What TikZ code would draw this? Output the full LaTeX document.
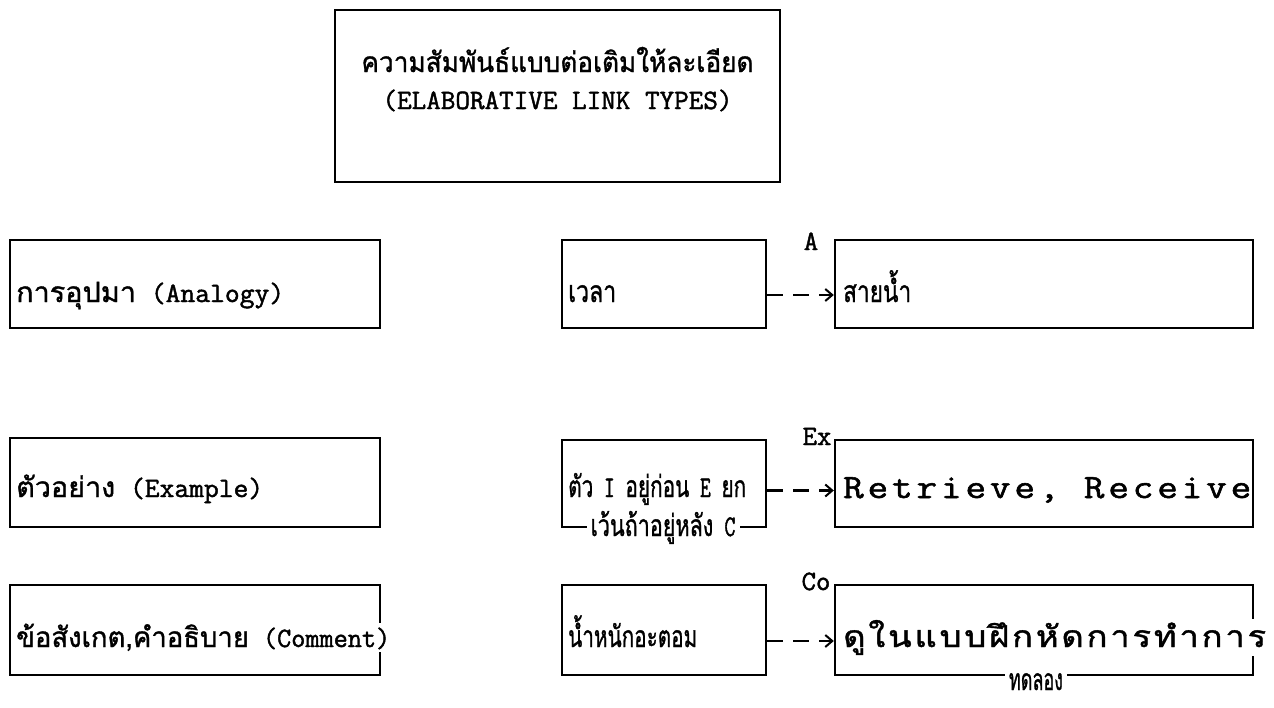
\documentclass[tikz,border=0pt]{standalone}
\usepackage{fontspec}
\usepackage{graphicx}
\usetikzlibrary{arrows.meta}
\newfontfamily\thai[Script=Thai,FakeBold=1.2]{Loma}
\newfontfamily\thaisp[Script=Thai,FakeBold=1.2,LetterSpace=8]{Loma}
\newfontfamily\tw[FakeBold=1.6]{Latin Modern Mono}
\newfontfamily\twsp[FakeBold=1.6,LetterSpace=10]{Latin Modern Mono}
\newcommand\fitto[2]{\resizebox{#1}{\height}{#2}}
\tikzset{
  box/.style={draw=black, line width=2.4pt, minimum width=#1, inner sep=0pt},
  txt/.style={font=\tw\fontsize{28}{32}\selectfont, inner sep=1pt, anchor=base west},
  lbl/.style={font=\tw\fontsize{28}{32}\selectfont, inner sep=1pt, anchor=base},
  link/.style={line width=2.2pt, dash pattern=on 16pt off 10pt, -{Straight Barb[length=7pt,width=12pt,line width=2pt]}},
}
\begin{document}
\begin{tikzpicture}[x=1pt,y=-1pt]
\useasboundingbox (0,0) rectangle (1274,707);
% title
\node[box=445pt, minimum height=172pt] (T) at (557.5,96) {};
\node[lbl] (Ta) at (557.5,72) {\fitto{392pt}{\thai ความสัมพันธ์แบบต่อเติมให้ละเอียด}};
\node[lbl] (Tb) at (557.5,109) {\fitto{350pt}{(ELABORATIVE LINK TYPES)}};
% left column
\node[box=370pt, minimum height=88pt] (L1) at (195,284) {};
\node[box=370pt, minimum height=89pt] (L2) at (195,482.5) {};
\node[box=370pt, minimum height=90pt] (L3) at (195,630) {};
\node[txt] (l1) at (15,302) {\fitto{268pt}{{\thai การอุปมา} (Analogy)}};
\node[txt] (l2) at (15,497) {\fitto{247pt}{{\thai ตัวอย่าง} (Example)}};
\node[txt, fill=white] (l3) at (15,647) {\fitto{374pt}{{\thai ข้อสังเกต,คำอธิบาย} (Comment)}};
% middle column
\node[box=204pt, minimum height=88pt] (M1) at (664,284) {};
\node[box=204pt, minimum height=87pt] (M2) at (664,483.5) {};
\node[box=204pt, minimum height=90pt] (M3) at (664,630) {};
\node[txt] (m1) at (567,302) {\fitto{48pt}{\fontsize{30}{32}\selectfont\thai เวลา}};
\node[txt] (m2) at (567,497) {\fitto{178pt}{\fontsize{30}{32}\selectfont{\thai ตัว} I {\thai อยู่ก่อน} E {\thai ยก}}};
\node[lbl, fill=white, inner xsep=4pt] (m2b) at (663,536) {\fitto{145pt}{\fontsize{30}{32}\selectfont{\thai เว้นถ้าอยู่หลัง} C}};
\node[txt] (m3) at (567,647) {\fitto{129pt}{\fontsize{30}{32}\selectfont\thai น้ำหนักอะตอม}};
% right column
\node[box=418pt, minimum height=88pt] (R1) at (1044,284) {};
\node[box=418pt, minimum height=87pt] (R2) at (1044,483.5) {};
\node[box=418pt, minimum height=90pt] (R3) at (1044,630) {};
\node[txt] (r1) at (842,302) {\fitto{68pt}{\fontsize{30}{32}\selectfont\thai สายน้ำ}};
\node[txt] (r2) at (842,498) {\fitto{408pt}{\fontsize{34}{36}\selectfont\twsp Retrieve, Receive}};
\node[txt, fill=white] (r3) at (842,647) {\fitto{423pt}{\fontsize{30}{32}\selectfont\thaisp ดูในแบบฝึกหัดการทำการ}};
\node[lbl, fill=white, inner xsep=4pt] (r3b) at (1036,690) {\fitto{54pt}{\fontsize{30}{32}\selectfont\thai ทดลอง}};
% link labels
\node[lbl] (A) at (811,250) {A};
\node[lbl] (Ex) at (817,445) {Ex};
\node[lbl] (Co) at (816,590) {Co};
% links
\draw[link] ([yshift=-11pt]M1.east) -- ([yshift=-11pt]R1.west);
\draw[link] ([yshift=-7pt]M2.east) -- ([yshift=-7pt]R2.west);
\draw[link] ([yshift=-11pt]M3.east) -- ([yshift=-11pt]R3.west);
\end{tikzpicture}
\end{document}
